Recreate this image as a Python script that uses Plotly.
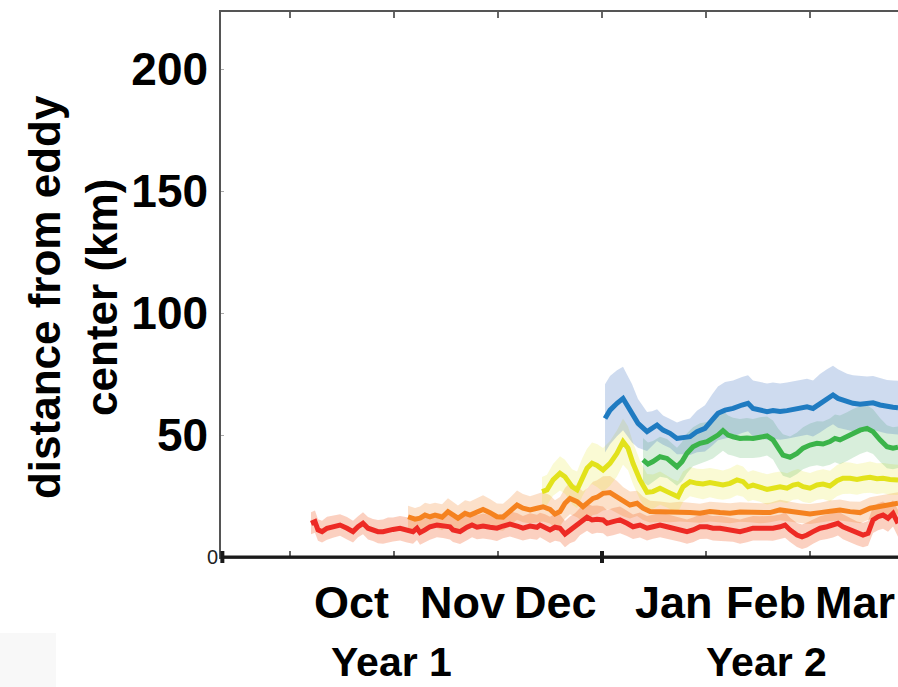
import plotly.graph_objects as go

# x positions in "month" units: 1 = 1 Oct (Year 1), 4 = 1 Jan (Year 2), 6 = 1 Mar (Year 2)
red_x = [1.202, 1.240, 1.269, 1.308, 1.356, 1.413, 1.481, 1.548, 1.606, 1.654, 1.702, 1.750, 1.798,
         1.846, 1.894, 1.942, 1.990, 2.058, 2.125, 2.183, 2.221, 2.250, 2.298, 2.346, 2.413, 2.471,
         2.538, 2.567, 2.635, 2.702, 2.750, 2.798, 2.856, 2.923, 2.990, 3.048, 3.115, 3.183, 3.240,
         3.308, 3.375, 3.404, 3.452, 3.500, 3.548, 3.596, 3.644, 3.692, 3.740, 3.788, 3.856, 3.904,
         3.952, 4.010, 4.048, 4.106, 4.173, 4.240, 4.298, 4.365, 4.433, 4.490, 4.558, 4.625, 4.683,
         4.750, 4.817, 4.875, 4.942, 5.010, 5.067, 5.135, 5.202, 5.260, 5.327, 5.394, 5.452, 5.519,
         5.587, 5.644, 5.712, 5.760, 5.808, 5.875, 5.923, 5.971, 6.029, 6.096, 6.163, 6.221, 6.269,
         6.317, 6.385, 6.452, 6.510, 6.558, 6.606, 6.654, 6.702, 6.750, 6.798, 6.846]
red_y = [13.8, 14.5, 11.1, 10.4, 11.8, 12.4, 13.1, 11.8, 10.4, 12.4, 13.8, 11.8, 11.1,
         10.4, 10.4, 11.1, 11.3, 11.8, 11.1, 10.4, 11.8, 10.0, 11.1, 12.4, 13.1, 12.7,
         12.4, 11.1, 10.4, 12.2, 13.1, 12.2, 12.7, 12.2, 11.8, 12.7, 13.5, 12.7, 11.8,
         12.7, 12.2, 13.1, 12.2, 11.1, 12.2, 11.8, 9.4, 11.1, 12.2, 14.5, 16.3, 15.2,
         15.5, 15.2, 13.8, 14.5, 15.2, 13.8, 12.4, 13.1, 11.8, 12.4, 13.1, 12.4, 11.8,
         11.1, 10.4, 11.1, 12.4, 12.4, 11.8, 11.8, 11.3, 11.1, 10.4, 11.1, 11.8, 11.8,
         11.8, 11.8, 12.4, 13.1, 11.1, 9.0, 8.3, 9.0, 10.4, 11.8, 12.4, 13.1, 13.8,
         12.4, 11.1, 9.7, 9.0, 9.7, 15.2, 16.5, 17.2, 15.9, 17.9, 13.8]
red_sd = [4.5, 4.6, 4.4, 4.5, 4.7, 4.5, 4.4, 4.6, 4.5, 4.3, 4.5, 4.6, 4.5,
          4.8, 5.0, 5.1, 4.9, 5.0, 5.2, 5.0, 4.8, 5.0, 5.1, 5.3, 5.0, 4.9,
          5.2, 5.0, 5.1, 5.3, 5.0, 4.9, 5.1, 5.0, 5.2, 5.0, 5.1, 5.3, 5.0,
          5.2, 5.1, 5.0, 5.3, 5.4, 5.5, 5.6, 5.4, 5.5, 5.7, 5.6, 5.5, 5.8,
          5.6, 5.5, 5.4, 5.6, 5.5, 5.2, 5.0, 5.1, 5.0, 4.9, 5.0, 5.1, 5.0,
          4.9, 5.0, 5.1, 5.0, 4.9, 5.0, 5.1, 5.0, 4.9, 5.0, 5.1, 5.0, 4.9,
          5.0, 5.1, 5.0, 5.2, 5.0, 4.9, 5.0, 5.1, 5.0, 4.9, 5.0, 5.1, 5.0,
          5.1, 5.0, 4.9, 5.0, 5.1, 5.4, 5.5, 5.6, 5.5, 5.4, 5.5]

orange_x = [2.135, 2.202, 2.250, 2.298, 2.346, 2.394, 2.462, 2.519, 2.615, 2.683, 2.731, 2.798,
            2.856, 2.923, 2.990, 3.048, 3.115, 3.183, 3.240, 3.308, 3.375, 3.433, 3.500, 3.548,
            3.596, 3.644, 3.692, 3.760, 3.817, 3.865, 3.913, 3.952, 4.010, 4.077, 4.144, 4.202,
            4.269, 4.337, 4.394, 4.462, 4.558, 4.654, 4.750, 4.846, 4.942, 5.038, 5.135, 5.231,
            5.327, 5.423, 5.519, 5.615, 5.712, 5.808, 5.904, 6.000, 6.096, 6.192, 6.288, 6.385,
            6.481, 6.577, 6.673, 6.769, 6.846]
orange_y = [16.5, 15.5, 15.9, 17.2, 16.5, 17.2, 16.3, 18.6, 15.9, 17.9, 17.2, 18.6,
            19.5, 18.2, 16.5, 16.3, 18.6, 21.3, 20.0, 19.3, 20.0, 20.6, 19.5, 17.6,
            18.6, 22.0, 24.0, 22.7, 20.6, 22.0, 24.0, 24.5, 26.1, 26.4, 24.7, 22.7,
            21.3, 22.0, 20.0, 18.6, 18.6, 18.2, 18.6, 18.2, 17.9, 18.6, 18.2, 17.9,
            18.4, 18.2, 17.9, 18.2, 19.3, 18.6, 17.9, 17.6, 18.2, 19.0, 19.3, 18.6,
            18.2, 20.0, 20.6, 21.3, 22.0]
orange_sd = [4.5, 4.6, 4.8, 5.0, 5.2, 5.0, 5.3, 5.5, 5.2, 5.4, 5.6, 5.5,
             5.8, 5.6, 5.4, 5.5, 5.7, 6.0, 5.8, 5.6, 5.9, 6.0, 5.8, 5.7,
             6.0, 6.3, 6.5, 6.4, 6.2, 6.5, 6.8, 7.0, 7.0, 6.8, 6.5, 6.0,
             5.5, 5.2, 4.8, 4.5, 4.2, 4.0, 4.0, 4.0, 3.9, 4.0, 4.0, 4.1,
             4.0, 4.0, 4.1, 4.0, 4.2, 4.0, 4.0, 4.1, 4.0, 4.2, 4.3, 4.2,
             4.4, 4.5, 4.6, 4.5, 4.5]

yellow_x = [3.423, 3.471, 3.529, 3.596, 3.644, 3.712, 3.760, 3.808, 3.856, 3.904, 3.952, 4.010,
            4.077, 4.144, 4.202, 4.250, 4.298, 4.365, 4.433, 4.490, 4.558, 4.625, 4.683, 4.731,
            4.779, 4.846, 4.913, 4.971, 5.038, 5.106, 5.163, 5.231, 5.298, 5.356, 5.404, 5.452,
            5.519, 5.587, 5.644, 5.712, 5.779, 5.837, 5.885, 5.933, 6.000, 6.067, 6.125, 6.192,
            6.260, 6.317, 6.385, 6.452, 6.510, 6.577, 6.644, 6.702, 6.769, 6.846]
yellow_y = [26.8, 27.5, 31.6, 34.3, 32.9, 28.8, 27.5, 32.5, 36.4, 38.4, 37.5, 35.7,
            38.4, 42.5, 47.3, 44.6, 38.4, 31.6, 26.5, 26.8, 28.2, 26.8, 25.4, 24.7,
            28.8, 30.9, 30.2, 29.9, 30.5, 29.9, 29.5, 30.2, 31.6, 30.9, 28.8, 29.5,
            28.6, 27.7, 28.2, 28.8, 28.2, 29.5, 29.9, 28.8, 28.2, 29.5, 29.9, 29.1,
            31.3, 32.3, 32.3, 31.8, 32.3, 32.7, 32.1, 32.3, 31.8, 31.6]
yellow_sd = [6.0, 6.2, 6.5, 7.0, 7.0, 7.2, 7.5, 7.8, 8.0, 8.5, 8.8, 9.0,
             9.2, 9.5, 9.5, 9.0, 8.5, 8.0, 7.5, 7.0, 6.8, 6.5, 6.5, 6.3,
             6.2, 6.0, 6.0, 6.2, 6.0, 6.1, 6.0, 6.2, 6.3, 6.2, 6.0, 6.1,
             6.0, 6.2, 6.3, 6.2, 6.1, 6.0, 6.2, 6.3, 6.2, 6.0, 6.1, 6.3,
             6.4, 6.5, 6.4, 6.3, 6.2, 6.4, 6.3, 6.2, 6.3, 6.2]

green_x = [4.394, 4.442, 4.490, 4.558, 4.625, 4.683, 4.721, 4.769, 4.817, 4.875, 4.942, 5.010,
           5.067, 5.115, 5.163, 5.212, 5.260, 5.327, 5.394, 5.452, 5.519, 5.587, 5.644, 5.692,
           5.740, 5.808, 5.875, 5.933, 6.000, 6.067, 6.125, 6.192, 6.240, 6.288, 6.356, 6.413,
           6.481, 6.548, 6.606, 6.673, 6.740, 6.798, 6.846]
green_y = [39.8, 38.1, 39.1, 41.1, 40.4, 38.4, 37.0, 39.1, 42.5, 45.2, 46.6, 47.3,
           48.6, 50.0, 51.8, 50.0, 49.3, 48.6, 48.8, 48.6, 49.1, 49.6, 48.0, 44.6,
           41.8, 40.9, 42.5, 44.6, 45.9, 46.6, 46.3, 47.3, 48.6, 48.0, 49.3, 50.7,
           52.0, 52.7, 51.4, 48.0, 45.2, 44.6, 45.0]
green_sd = [9.0, 8.8, 8.5, 8.2, 8.0, 7.8, 7.8, 8.0, 8.2, 8.0, 8.2, 8.0,
            8.2, 8.0, 8.2, 8.0, 7.8, 8.0, 8.2, 8.0, 8.2, 8.0, 8.0, 8.2,
            8.5, 8.5, 8.5, 8.6, 8.8, 9.0, 9.2, 9.5, 9.8, 10.0, 10.0, 10.0,
            9.8, 9.5, 9.2, 9.0, 8.8, 8.6, 8.5]

blue_x = [4.029, 4.077, 4.144, 4.202, 4.240, 4.288, 4.346, 4.433, 4.481, 4.529, 4.587, 4.654,
          4.721, 4.779, 4.846, 4.913, 4.990, 5.058, 5.115, 5.183, 5.260, 5.346, 5.404, 5.452,
          5.519, 5.587, 5.644, 5.712, 5.779, 5.837, 5.904, 5.971, 6.029, 6.096, 6.163, 6.221,
          6.269, 6.356, 6.413, 6.481, 6.548, 6.606, 6.673, 6.740, 6.798, 6.846]
blue_y = [56.8, 60.2, 63.0, 65.0, 62.3, 58.9, 54.8, 51.4, 52.7, 54.1, 52.0, 50.7,
          48.6, 49.1, 49.3, 51.4, 52.7, 56.1, 58.9, 60.2, 60.9, 62.3, 63.0, 60.9,
          60.2, 59.6, 60.0, 59.6, 60.0, 60.5, 61.2, 61.6, 60.9, 63.0, 65.0, 66.4,
          65.0, 63.6, 63.0, 62.6, 63.0, 63.2, 62.3, 61.6, 61.4, 61.2]
blue_sd = [14.0, 14.0, 13.5, 13.0, 12.5, 12.0, 10.0, 8.0, 7.0, 6.5, 6.0, 6.0,
           6.5, 7.0, 7.5, 8.5, 9.5, 10.5, 11.0, 11.5, 11.5, 11.5, 11.5, 11.5,
           11.5, 11.5, 11.5, 11.5, 11.5, 11.5, 11.5, 11.5, 11.5, 12.0, 12.0, 12.0,
           12.0, 11.5, 11.5, 11.5, 11.0, 11.0, 11.0, 11.0, 11.0, 11.0]

month_labels = ["Oct", "Nov", "Dec", "Jan", "Feb", "Mar"]
month_label_x = [1.596, 2.654, 3.548, 4.692, 5.577, 6.433]
year_labels = ["Year 1", "Year 2"]
year_label_x = [1.98, 5.577]
month_ticks = [1, 2, 3, 4, 5, 6]
y_ticks = [50, 100, 150, 200]
y_tick_text = ["50", "100", "150", "200"]

series = [
    (red_x, red_y, red_sd, "#ED2A24", "rgba(242,110,60,0.32)"),
    (orange_x, orange_y, orange_sd, "#F5821F", "rgba(245,130,40,0.25)"),
    (yellow_x, yellow_y, yellow_sd, "#E2E21B", "rgba(228,228,40,0.20)"),
    (green_x, green_y, green_sd, "#3BB44A", "rgba(59,170,74,0.20)"),
    (blue_x, blue_y, blue_sd, "#1F7BC1", "rgba(60,110,190,0.25)"),
]

FONT = "Liberation Sans, Arial, sans-serif"
fig = go.Figure()

for xs, ys, sd, col, fcol in series:
    upper = [y + s for y, s in zip(ys, sd)]
    lower = [y - s for y, s in zip(ys, sd)]
    fig.add_trace(go.Scatter(x=xs + xs[::-1], y=upper + lower[::-1], fill="toself",
                             fillcolor=fcol, line=dict(width=0), mode="lines",
                             hoverinfo="skip", showlegend=False))
for xs, ys, sd, col, fcol in series:
    fig.add_trace(go.Scatter(x=xs, y=ys, mode="lines", line=dict(color=col, width=5),
                             showlegend=False))

fig.update_xaxes(range=[0.3365, 6.846], tickvals=month_ticks, showticklabels=False,
                 ticks="inside", ticklen=6, tickwidth=1.5, tickcolor="#666",
                 showline=True, linecolor="#555", linewidth=1.5, mirror="ticks",
                 showgrid=False, zeroline=False)
fig.update_yaxes(range=[0, 223.4], tickvals=y_ticks, ticktext=y_tick_text,
                 ticks="inside", ticklen=3, tickwidth=1, tickcolor="#aaa",
                 tickfont=dict(family=FONT, size=46, color="black", weight="bold"),
                 ticklabelstandoff=2,
                 showline=True, linecolor="#555", linewidth=1.5,
                 showgrid=False, zeroline=False)

shapes = [
    dict(type="line", xref="paper", yref="paper", x0=0, x1=1, y0=0, y1=0,
         line=dict(color="#1a1a1a", width=3)),
    dict(type="line", xref="paper", yref="paper", x0=0.002, x1=0.002, y0=-0.011, y1=0.011,
         line=dict(color="#1a1a1a", width=4)),
    dict(type="line", xref="x", yref="paper", x0=4, x1=4, y0=-0.011, y1=0.011,
         line=dict(color="#1a1a1a", width=4)),
    dict(type="rect", xref="paper", yref="paper", x0=-221 / 677, x1=-165 / 677,
         y0=-130 / 545, y1=-76 / 545, fillcolor="#f8f8f8", line=dict(width=0), layer="below"),
]

annotations = []
for lab, xv in zip(month_labels, month_label_x):
    annotations.append(dict(x=xv, y=0, xref="x", yref="paper", text=lab, showarrow=False,
                            xanchor="center", yanchor="middle", yshift=-45,
                            font=dict(family=FONT, size=45, color="black", weight="bold")))
for lab, xv in zip(year_labels, year_label_x):
    annotations.append(dict(x=xv, y=0, xref="x", yref="paper", text=lab, showarrow=False,
                            xanchor="center", yanchor="middle", yshift=-105,
                            font=dict(family=FONT, size=41, color="black", weight="bold")))
annotations.append(dict(x=0, y=0, xref="paper", yref="y", text="0", showarrow=False,
                        xanchor="right", yanchor="middle", xshift=-1,
                        font=dict(family=FONT, size=20, color="#222")))
annotations.append(dict(x=0, y=0.477, xref="paper", yref="paper",
                        text="distance from eddy<br>center (km)", showarrow=False,
                        textangle=-90, xanchor="center", yanchor="middle", xshift=-148,
                        font=dict(family=FONT, size=44, color="black", weight="bold")))

fig.update_layout(width=898, height=687, margin=dict(l=221, r=0, t=12, b=130),
                  paper_bgcolor="white", plot_bgcolor="white",
                  shapes=shapes, annotations=annotations)

fig.write_html("out.html")
